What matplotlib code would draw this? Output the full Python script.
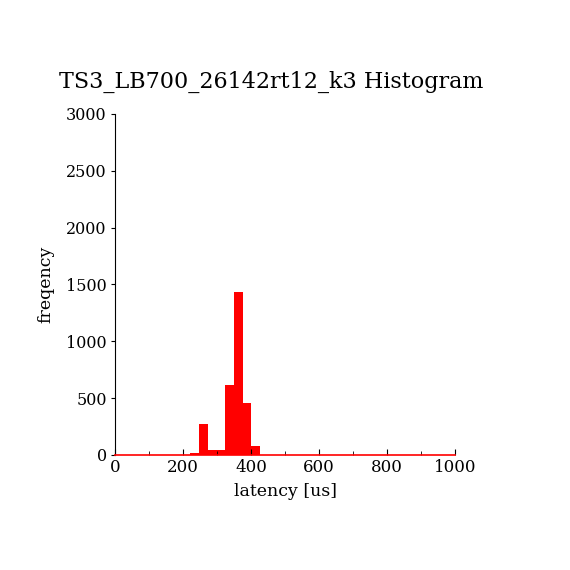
import matplotlib
matplotlib.use("Agg")
import matplotlib.pyplot as plt
from matplotlib.ticker import MultipleLocator

bin_edges = [221, 246.7, 272.4, 298.1, 323.8, 349.5, 375.2, 400.9, 426.6]
counts = [18, 273, 44, 44, 616, 1434, 457, 82]
x_ticks = [0, 200, 400, 600, 800, 1000]
y_ticks = [0, 500, 1000, 1500, 2000, 2500, 3000]

plt.rcParams["font.family"] = ["DejaVu Serif"]

fig = plt.figure(figsize=(5.7, 5.7), dpi=100)
ax = fig.add_axes([0.2018, 0.2018, 0.5965, 0.5983])

widths = [b - a for a, b in zip(bin_edges[:-1], bin_edges[1:])]
ax.bar(bin_edges[:-1], counts, width=widths, align="edge", color="red", linewidth=0)

ax.set_xlim(0, 1000)
ax.set_ylim(0, 3000)
ax.set_xticks(x_ticks)
ax.set_yticks(y_ticks)
ax.xaxis.set_minor_locator(MultipleLocator(100))

for side in ["top", "right"]:
    ax.spines[side].set_visible(False)
ax.spines["bottom"].set_color("red")
ax.spines["bottom"].set_linewidth(1.2)
ax.spines["left"].set_color("black")

ax.tick_params(axis="x", which="major", direction="in", length=4, labelsize=12, pad=3)
ax.tick_params(axis="x", which="minor", direction="in", length=3)
ax.tick_params(axis="y", direction="out", length=3, labelsize=11.5, pad=3)

ax.set_xlabel("latency [us]", fontsize=12.5, labelpad=5)
ax.set_ylabel("freqency", fontsize=12.5, labelpad=8)
fig.text(0.475, 1 - 82 / 570, "TS3_LB700_26142rt12_k3 Histogram",
         fontsize=16, ha="center", va="center")

fig.savefig("out.png", dpi=100, facecolor="white")
